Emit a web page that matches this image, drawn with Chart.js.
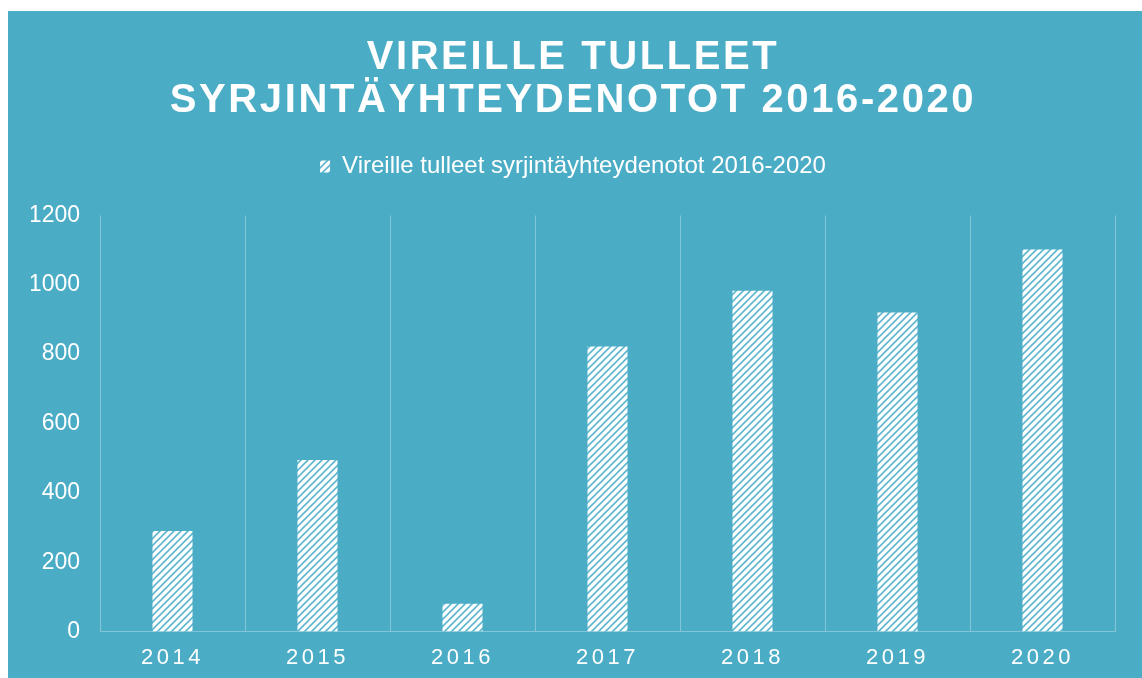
<!DOCTYPE html>
<html>
<head>
<meta charset="utf-8">
<script src="https://cdn.jsdelivr.net/npm/chart.js@4"></script>
<style>
    html, body {
        margin: 0;
        padding: 0;
        background: #ffffff;
        overflow: hidden;
    }
    #wrap {
        position: absolute;
        left: 8px;
        top: 11px;
        width: 1134px;
        height: 682px;
        background: #4bacc6;
    }
</style>
</head>
<body>
<div id="wrap"><canvas id="chart"></canvas></div>
<script>
const years = ["2014", "2015", "2016", "2017", "2018", "2019", "2020"];
const cases = [290, 495, 80, 822, 983, 920, 1102];
const yTicks = [0, 200, 400, 600, 800, 1000, 1200];
const titleLines = ["VIREILLE TULLEET", "SYRJINTÄYHTEYDENOTOT 2016-2020"];
const seriesLabel = "Vireille tulleet syrjintäyhteydenotot 2016-2020";

const FONT = "'Liberation Sans', Arial, sans-serif";
const GRID = "rgba(255,255,255,0.3)";

// diagonal hatch like the office "upward diagonal" fill
function makeHatch() {
    const size = 7;
    const c = document.createElement("canvas");
    c.width = size;
    c.height = size;
    const g = c.getContext("2d");
    g.fillStyle = "#ffffff";
    g.fillRect(0, 0, size, size);
    g.strokeStyle = "#5fb6cf";
    g.lineWidth = 1.6;
    g.beginPath();
    g.moveTo(-1, size + 1);
    g.lineTo(size + 1, -1);
    g.moveTo(-1, 1);
    g.lineTo(1, -1);
    g.moveTo(size - 1, size + 1);
    g.lineTo(size + 1, size - 1);
    g.stroke();
    return g.createPattern(c, "repeat");
}

// letter spacing for the title and the year labels
const spacing = {
    id: "spacing",
    beforeDraw(chart) {
        const ctx = chart.ctx;
        const wrapDraw = (obj, name, px) => {
            if (!obj || obj["_sp_" + name]) return;
            const orig = obj[name];
            obj[name] = function (...args) {
                ctx.save();
                ctx.letterSpacing = px;
                orig.apply(this, args);
                ctx.restore();
            };
            obj["_sp_" + name] = true;
        };
        wrapDraw(chart.titleBlock, "draw", "2.6px");
        wrapDraw(chart.scales.x, "drawLabels", "3.5px");
    },
};

// extra room under the legend
const legendGap = {
    id: "legendGap",
    beforeInit(chart) {
        const fit = chart.legend.fit;
        chart.legend.fit = function () {
            fit.bind(chart.legend)();
            this.height += 27;
        };
    },
};

const hatch = makeHatch();

new Chart(document.getElementById("chart"), {
    type: "bar",
    data: {
        labels: years,
        datasets: [
            {
                label: seriesLabel,
                data: cases,
                backgroundColor: hatch,
                borderWidth: 0,
                barPercentage: 0.276,
                categoryPercentage: 1,
            },
        ],
    },
    options: {
        responsive: true,
        maintainAspectRatio: false,
        animation: false,
        layout: {
            padding: { top: 0, left: 23, right: 27, bottom: 9 },
        },
        plugins: {
            title: {
                display: true,
                text: titleLines,
                color: "#ffffff",
                font: { family: FONT, size: 40, weight: "bold", lineHeight: 1.08 },
                padding: { top: 25, bottom: 32 },
            },
            legend: {
                display: true,
                labels: {
                    color: "#ffffff",
                    font: { family: FONT, size: 24 },
                    boxWidth: 10,
                    boxHeight: 12,
                    padding: 0,
                },
            },
            tooltip: { enabled: false },
        },
        scales: {
            x: {
                grid: {
                    display: true,
                    color: GRID,
                    lineWidth: 1,
                    drawTicks: false,
                    offset: true,
                },
                border: { display: true, color: GRID, width: 1 },
                ticks: {
                    color: "#ffffff",
                    font: { family: FONT, size: 22 },
                    padding: 13,
                    z: 1,
                },
            },
            y: {
                min: 0,
                max: 1200,
                afterBuildTicks(axis) {
                    axis.ticks = yTicks.map((v) => ({ value: v }));
                },
                afterFit(axis) {
                    axis.width = 69;
                },
                grid: { display: false, drawTicks: false },
                border: { display: false },
                ticks: {
                    color: "#ffffff",
                    font: { family: FONT, size: 23 },
                    padding: 20,
                    callback: (v) => String(v),
                },
            },
        },
    },
    plugins: [spacing, legendGap],
}).draw();
</script>
</body>
</html>
